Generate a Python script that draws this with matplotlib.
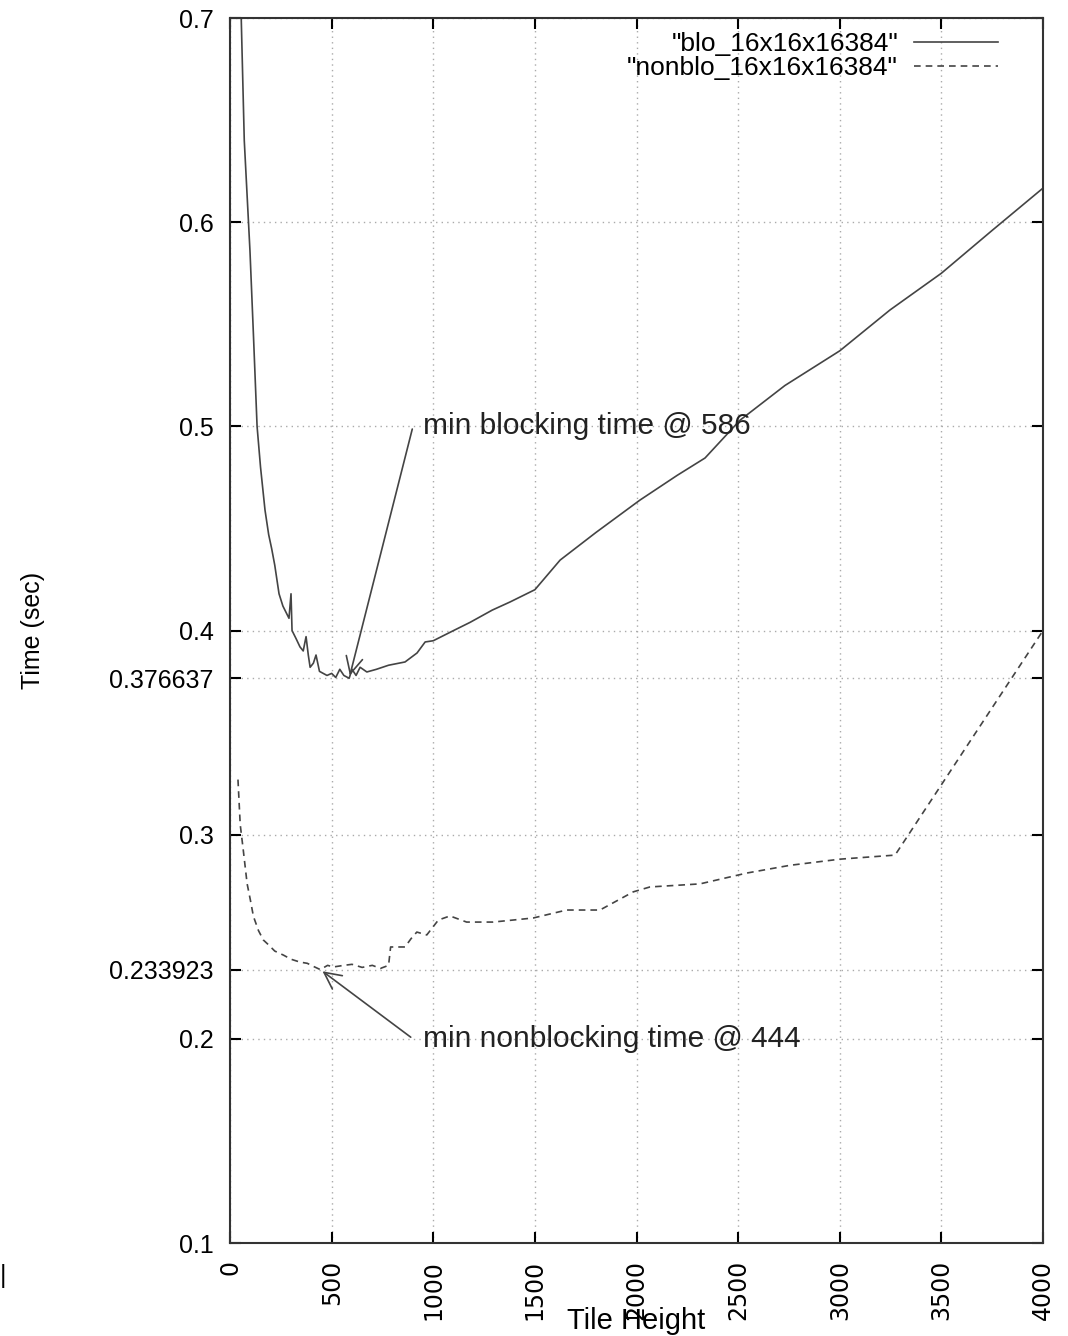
import numpy as np
import matplotlib
matplotlib.use("Agg")
import matplotlib.pyplot as plt

plt.rcParams['font.family'] = ['Liberation Sans', 'DejaVu Sans']

# blocking curve (tile height, time)
blo_x = [50, 70, 98, 115, 133, 150, 172, 190, 205, 220, 241, 260, 275, 290, 300, 305,
         325, 344, 360, 374, 385, 394, 410, 423, 440, 477, 500, 520, 540, 560, 586,
         600, 620, 640, 673, 720, 780, 861, 920, 960, 1000, 1100, 1181, 1290, 1378,
         1500, 1624, 1800, 2017, 2200, 2337, 2509, 2730, 3000, 3247, 3500, 3750, 4000]
blo_y = [0.72, 0.64, 0.586, 0.545, 0.500, 0.480, 0.459, 0.447, 0.440, 0.432, 0.418,
         0.412, 0.409, 0.406, 0.418, 0.400, 0.396, 0.392, 0.390, 0.397, 0.388, 0.382,
         0.384, 0.388, 0.380, 0.378, 0.379, 0.377, 0.381, 0.378, 0.3766, 0.381, 0.378,
         0.382, 0.3797, 0.381, 0.383, 0.3846, 0.389, 0.3944, 0.395, 0.400, 0.404,
         0.410, 0.414, 0.420, 0.4345, 0.448, 0.4639, 0.476, 0.4845, 0.503, 0.520,
         0.537, 0.557, 0.575, 0.596, 0.6167]

# nonblocking curve
nb_x = [39, 50, 65, 84, 100, 115, 140, 164, 190, 220, 263, 300, 344, 380, 410, 444,
        480, 508, 560, 600, 650, 700, 740, 780, 790, 821, 861, 890, 919, 968, 1025,
        1082, 1164, 1294, 1492, 1656, 1820, 1984, 2066, 2312, 2542, 2755, 3000, 3272, 4000]
nb_y = [0.327, 0.305, 0.2925, 0.276, 0.268, 0.260, 0.253, 0.2484, 0.246, 0.243, 0.241,
        0.239, 0.2376, 0.237, 0.2355, 0.233923, 0.236, 0.2352, 0.236, 0.2365, 0.235,
        0.236, 0.2345, 0.236, 0.245, 0.245, 0.245, 0.249, 0.2523, 0.2509, 0.2582,
        0.2602, 0.2572, 0.2572, 0.2592, 0.2631, 0.2631, 0.272, 0.2744, 0.2759, 0.2812,
        0.285, 0.288, 0.290, 0.400]

blo_label = '"blo_16x16x16384"'
nb_label = '"nonblo_16x16x16384"'

yticks = [0.1, 0.2, 0.233923, 0.3, 0.376637, 0.4, 0.5, 0.6, 0.7]
ytick_labels = ['0.1', '0.2', '0.233923', '0.3', '0.376637', '0.4', '0.5', '0.6', '0.7']
xticks = [0, 500, 1000, 1500, 2000, 2500, 3000, 3500, 4000]

fig = plt.figure(figsize=(10.68, 13.36), dpi=100)
ax = fig.add_axes([0.2154, 0.0696, 0.7612, 0.9169])

ax.plot(blo_x, blo_y, color='#444444', lw=1.2, label=blo_label)
ax.plot(nb_x, nb_y, color='#444444', lw=1.2, ls=(0, (4, 3)), label=nb_label)

ax.set_xlim(0, 4000)
ax.set_ylim(0.1, 0.7)
ax.set_xticks(xticks)
ax.set_xticklabels([str(v) for v in xticks], rotation=90, fontsize=17,
                   family='DejaVu Sans')
ax.set_yticks(yticks)
ax.set_yticklabels(ytick_labels, fontsize=18)
ax.tick_params(direction='in', length=8, width=1.5, top=True, right=True, pad=12)
ax.grid(True, color='#aaaaaa', ls=(0, (1, 3)), lw=1)
for s in ax.spines.values():
    s.set_linewidth(1.5)
    s.set_color('#333333')

# gnuplot-style x label sits on top of the tick labels
ax.set_xlabel('Tile Height', fontsize=21)
ax.xaxis.set_label_coords(0.5, -0.052)
ax.set_ylabel('Time (sec)', fontsize=18)
ax.yaxis.set_label_coords(-0.228, 0.5)

# annotations
ax.annotate('', xy=(586, 0.376637), xytext=(900, 0.5),
            arrowprops=dict(arrowstyle='->', color='#444444', lw=1.2,
                            mutation_scale=30))
ax.text(950, 0.5, 'min blocking time @ 586', fontsize=21.5, va='center', color='#222222')
ax.annotate('', xy=(444, 0.233923), xytext=(900, 0.2),
            arrowprops=dict(arrowstyle='->', color='#444444', lw=1.2,
                            mutation_scale=30))
ax.text(950, 0.2, 'min nonblocking time @ 444', fontsize=21.5, va='center', color='#222222')

leg = ax.legend(loc='upper right', bbox_to_anchor=(0.958, 0.997), frameon=False,
                markerfirst=False, fontsize=19, handlelength=3.2, handletextpad=0.6,
                labelspacing=0.0, borderaxespad=0.0)

fig.text(0.0, 0.04, '|', fontsize=18)

fig.savefig('out.png', dpi=100, facecolor='white')
